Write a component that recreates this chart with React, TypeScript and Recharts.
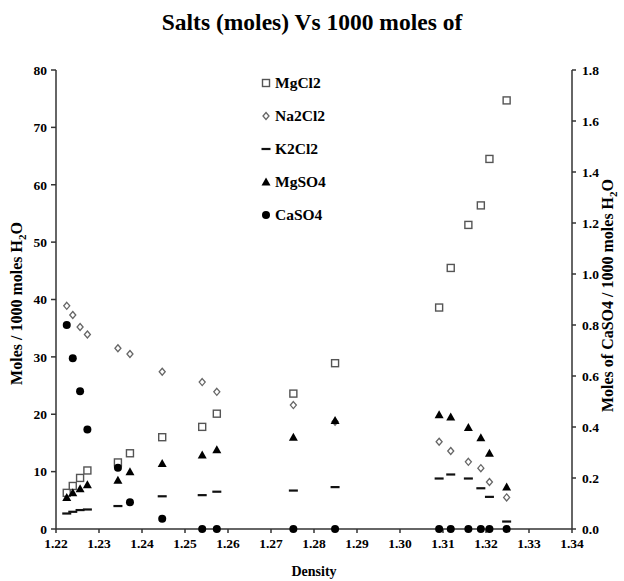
import React from 'react';
import { ScatterChart, Scatter, XAxis, YAxis, Legend } from 'recharts';

// densities
const density = [1.2225, 1.2239, 1.2256, 1.2273, 1.2344, 1.2372, 1.2447, 1.254, 1.2574, 1.2752, 1.2849, 1.3091, 1.3118, 1.3159, 1.3188, 1.3208, 1.3248];

// moles / 1000 moles H2O (left axis)
const mgcl2 = [6.3, 7.5, 8.9, 10.2, 11.6, 13.2, 16.0, 17.8, 20.1, 23.6, 28.9, 38.6, 45.5, 53.0, 56.4, 64.5, 74.7];
const na2cl2 = [38.9, 37.3, 35.2, 33.9, 31.5, 30.5, 27.4, 25.6, 23.9, 21.6, 18.7, 15.2, 13.6, 11.7, 10.6, 8.2, 5.5];
const k2cl2 = [2.7, 3.0, 3.3, 3.4, 4.0, null, 5.7, 5.9, 6.5, 6.7, 7.3, 8.8, 9.5, 8.8, 7.1, 5.6, 1.3];
const mgso4 = [5.5, 6.3, 7.0, 7.7, 8.5, 10.0, 11.4, 12.9, 13.8, 16.0, 18.9, 19.9, 19.5, 17.7, 15.9, 13.2, 7.3];
// right axis
const caso4 = [0.8, 0.67, 0.54, 0.39, 0.24, 0.105, 0.04, 0, 0, 0, 0, 0, 0, 0, 0, 0, 0];

const xTicks = [1.22, 1.23, 1.24, 1.25, 1.26, 1.27, 1.28, 1.29, 1.3, 1.31, 1.32, 1.33, 1.34];
const leftTicks = [0, 10, 20, 30, 40, 50, 60, 70, 80];
const rightTicks = [0, 0.2, 0.4, 0.6, 0.8, 1.0, 1.2, 1.4, 1.6, 1.8];

const toPoints = (vals: (number | null)[]) =>
  density.map((d, i) => ({ d, v: vals[i] })).filter((p) => p.v !== null);

const FONT = '"Liberation Serif", "Times New Roman", serif';
const AXIS = '#333';

const SquareMark = ({ cx, cy }: any) => (
  <rect x={cx - 3.5} y={cy - 3.5} width={7} height={7} fill="#fff" stroke="#555" strokeWidth={1.4} />
);
const DiamondMark = ({ cx, cy }: any) => (
  <path d={`M${cx},${cy - 3.5}L${cx + 3},${cy}L${cx},${cy + 3.5}L${cx - 3},${cy}Z`} fill="#fff" stroke="#666" strokeWidth={1.3} />
);
const DashMark = ({ cx, cy }: any) => (
  <rect x={cx - 4.5} y={cy - 1.1} width={9} height={2.2} fill="#111" />
);
const TriangleMark = ({ cx, cy }: any) => (
  <path d={`M${cx},${cy - 4.5}L${cx + 4.5},${cy + 3.5}L${cx - 4.5},${cy + 3.5}Z`} fill="#000" />
);
const CircleMark = ({ cx, cy }: any) => <circle cx={cx} cy={cy} r={4} fill="#000" />;

const series = [
  { name: 'MgCl2', mark: SquareMark },
  { name: 'Na2Cl2', mark: DiamondMark },
  { name: 'K2Cl2', mark: DashMark },
  { name: 'MgSO4', mark: TriangleMark },
  { name: 'CaSO4', mark: CircleMark },
];

const tickStyle = { fill: '#000', fontSize: 13.5, fontWeight: 'bold', fontFamily: FONT };

const LegendBox = () => (
  <div style={{ fontFamily: FONT, fontWeight: 'bold', fontSize: 15.5 }}>
    {series.map((s) => {
      const M = s.mark;
      return (
        <div key={s.name} style={{ display: 'flex', alignItems: 'center', height: 33 }}>
          <svg width={12} height={12} style={{ marginRight: 3 }}>
            <M cx={6} cy={6} />
          </svg>
          <span>{s.name}</span>
        </div>
      );
    })}
  </div>
);

const H2OLabel = ({ x, y, pre }: { x: number; y: number; pre: string }) => (
  <text
    x={x}
    y={y}
    transform={`rotate(-90, ${x}, ${y})`}
    textAnchor="middle"
    fontFamily={FONT}
    fontWeight="bold"
    fontSize={16}
    fill="#000"
  >
    {pre}H
    <tspan fontSize={11} dy={4}>2</tspan>
    <tspan dy={-4}>O</tspan>
  </text>
);

export default function App() {
  return (
    <div style={{ position: 'absolute', left: 0, top: 0, width: 624, height: 581, background: '#fff', fontFamily: FONT }}>
      <div
        style={{
          position: 'absolute', left: 0, top: 9, width: 624, textAlign: 'center',
          fontFamily: FONT, fontWeight: 'bold', fontSize: 23.5,
        }}
      >
        Salts (moles) Vs 1000 moles of
      </div>
      <ScatterChart
        width={624}
        height={581}
        margin={{ top: 70, right: 12, bottom: 22, left: 16 }}
        style={{ fontFamily: FONT }}
      >
        <XAxis
          type="number"
          dataKey="d"
          domain={[1.22, 1.34]}
          ticks={xTicks}
          tickFormatter={(v: number) => v.toFixed(2)}
          tick={tickStyle}
          tickSize={4}
          tickMargin={5}
          height={30}
          stroke={AXIS}
          strokeWidth={1.5}
          allowDataOverflow
          label={{
            content: ({ viewBox }: any) => (
              <text x={viewBox.x + viewBox.width / 2} y={576} textAnchor="middle" fontFamily={FONT} fontWeight="bold" fontSize={14}>
                Density
              </text>
            ),
          }}
        />
        <YAxis
          yAxisId="left"
          type="number"
          dataKey="v"
          domain={[0, 80]}
          ticks={leftTicks}
          tick={tickStyle}
          tickSize={5}
          tickMargin={4}
          width={40}
          stroke={AXIS}
          strokeWidth={1.5}
          label={{
            content: ({ viewBox }: any) => (
              <H2OLabel x={22} y={viewBox.y + viewBox.height / 2 + 4} pre="Moles / 1000 moles " />
            ),
          }}
        />
        <YAxis
          yAxisId="right"
          orientation="right"
          type="number"
          dataKey="v"
          domain={[0, 1.8]}
          ticks={rightTicks}
          tickFormatter={(v: number) => v.toFixed(1)}
          tick={tickStyle}
          tickSize={4}
          tickMargin={6}
          width={40}
          stroke={AXIS}
          strokeWidth={1.5}
          label={{
            content: ({ viewBox }: any) => (
              <H2OLabel x={613} y={viewBox.y + viewBox.height / 2 - 4} pre="Moles of CaSO4 / 1000 moles " />
            ),
          }}
        />
        <Legend
          layout="vertical"
          align="center"
          verticalAlign="middle"
          wrapperStyle={{ position: 'absolute', left: 260, top: 66, width: 100 }}
          content={() => <LegendBox />}
        />
        <Scatter name="MgCl2" yAxisId="left" data={toPoints(mgcl2)} shape={SquareMark} isAnimationActive={false} />
        <Scatter name="Na2Cl2" yAxisId="left" data={toPoints(na2cl2)} shape={DiamondMark} isAnimationActive={false} />
        <Scatter name="K2Cl2" yAxisId="left" data={toPoints(k2cl2)} shape={DashMark} isAnimationActive={false} />
        <Scatter name="MgSO4" yAxisId="left" data={toPoints(mgso4)} shape={TriangleMark} isAnimationActive={false} />
        <Scatter name="CaSO4" yAxisId="right" data={toPoints(caso4)} shape={CircleMark} isAnimationActive={false} />
      </ScatterChart>
    </div>
  );
}
